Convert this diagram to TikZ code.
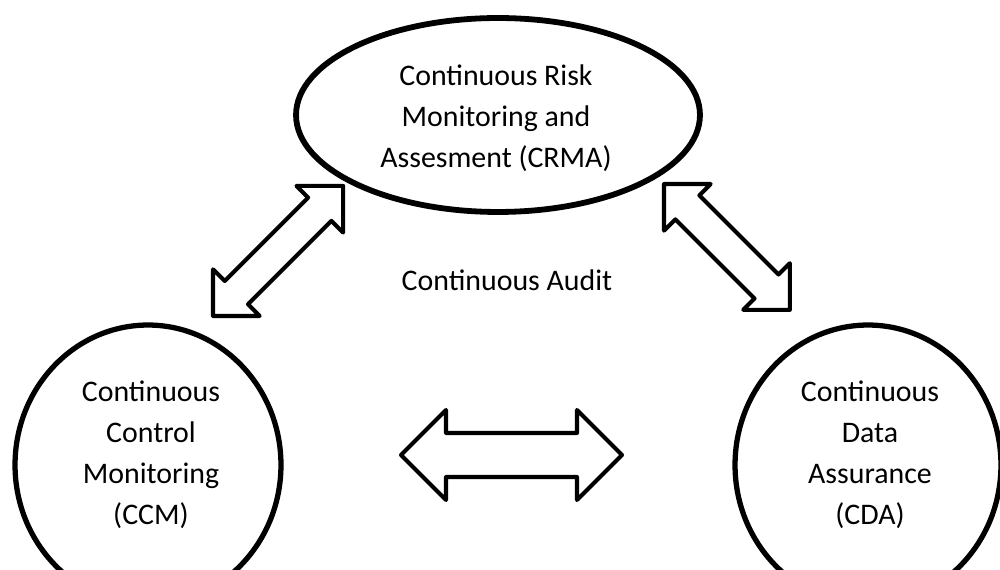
\documentclass[tikz,border=0pt]{standalone}
\usepackage{fontspec}
\setmainfont{Carlito}
\usetikzlibrary{shapes.geometric}
\newcommand{\dblarrow}[4]{%
  \draw[blockarrow] (0,0) -- (#2,#3) -- (#2,#4) -- ({#1-#2},#4) -- ({#1-#2},#3) -- (#1,0)
    -- ({#1-#2},-#3) -- ({#1-#2},-#4) -- (#2,-#4) -- (#2,-#3) -- cycle;}
\begin{document}
\begin{tikzpicture}[x=0.02cm,y=-0.02cm,
  bubble/.style={draw=black, ellipse, inner sep=0pt, line width=3pt},
  lbl/.style={align=center, font=\fontsize{17}{23.4}\selectfont, inner sep=0pt},
  blockarrow/.style={draw=black, fill=white, line width=2.3pt, line join=round}]
\useasboundingbox (0,0) rectangle (1000,570);
\clip (0,0) rectangle (1000,570);
% bubbles
\node[bubble, line width=3.3pt, minimum width=8.08cm, minimum height=3.88cm] (crma) at (498,115) {};
\node[bubble, minimum width=5.32cm, minimum height=5.6cm] (ccm) at (148,465) {};
\node[bubble, minimum width=5.32cm, minimum height=5.6cm] (cda) at (868,465) {};
% texts
\node[lbl] (crmat) at (496,118) {Continuous Risk\\Monitoring and\\Assesment (CRMA)};
\node[lbl] (ccmt) at (151,455) {Continuous\\Control\\Monitoring\\(CCM)};
\node[lbl] (cdat) at (870,455) {Continuous\\Data\\Assurance\\(CDA)};
\node[lbl] (audit) at (507,280) {Continuous Audit};
% arrows
\coordinate (la) at (213,316);
\coordinate (ra) at (664,184);
\coordinate (ha) at (401,455);
\begin{scope}[shift={(la)}, rotate=45]
  \dblarrow{184}{33}{33}{16.5}
\end{scope}
\begin{scope}[shift={(ra)}, rotate=-45]
  \dblarrow{178}{33}{33}{17}
\end{scope}
\begin{scope}[shift={(ha)}]
  \dblarrow{221}{45}{45}{22}
\end{scope}
\end{tikzpicture}
\end{document}
